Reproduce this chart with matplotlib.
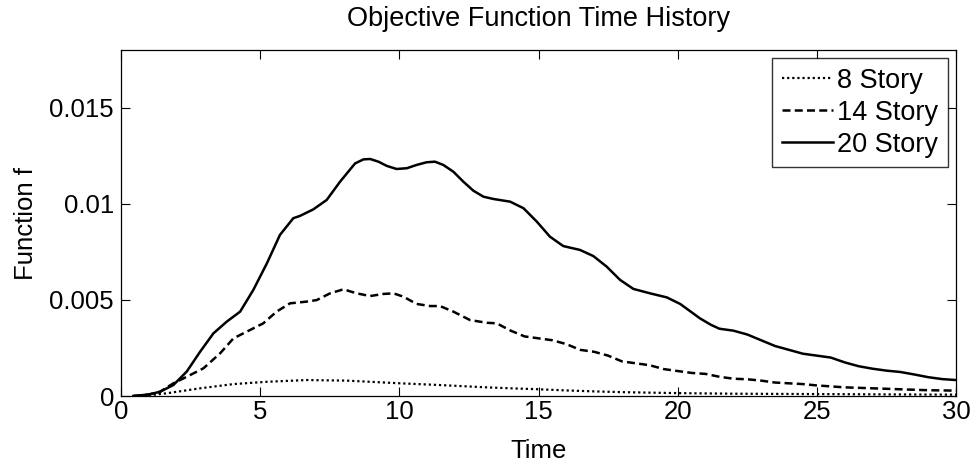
import numpy as np
import matplotlib.pyplot as plt

plt.rcParams['font.family'] = ['Liberation Sans', 'DejaVu Sans']

# values (units of 1e-3)
t20 = [0.44, 1.0, 1.4, 1.88, 2.36, 2.84, 3.32, 3.8, 4.28, 4.75, 5.24, 5.71, 6.19,
       6.43, 6.91, 7.39, 7.87, 8.41, 8.71, 8.95, 9.25, 9.55, 9.9, 10.27, 10.62, 10.98,
       11.28, 11.58, 11.94, 12.3, 12.66, 13.02, 13.38, 13.98, 14.46, 14.94, 15.41,
       15.89, 16.49, 16.97, 17.45, 17.93, 18.41, 19.01, 19.61, 20.09, 20.8, 21.2, 21.5,
       22, 22.5, 23, 23.5, 24, 24.5, 25, 25.5, 26, 26.5, 27, 27.5, 28, 28.5, 29, 29.5, 30]
f20 = [0.0, 0.08, 0.22, 0.57, 1.27, 2.3, 3.26, 3.87, 4.39, 5.51, 6.9, 8.38, 9.25,
       9.37, 9.71, 10.2, 11.15, 12.1, 12.31, 12.33, 12.19, 11.97, 11.81, 11.85, 12.02,
       12.16, 12.19, 12.02, 11.67, 11.15, 10.68, 10.37, 10.25, 10.11, 9.77, 9.07, 8.29,
       7.8, 7.6, 7.28, 6.73, 6.04, 5.57, 5.34, 5.13, 4.79, 4.04, 3.7, 3.5,
       3.4, 3.2, 2.9, 2.6, 2.4, 2.2, 2.1, 2.0, 1.75, 1.55, 1.42, 1.32, 1.25, 1.12, 0.98, 0.88, 0.83]

t14 = [0.44, 1.0, 1.4, 1.88, 2.36, 2.96, 3.56, 4.04, 4.52, 5.11, 5.59, 6.07, 6.67,
       7.03, 7.51, 7.99, 8.47, 8.95, 9.43, 9.79, 10.14, 10.62, 11.1, 11.46, 11.94,
       12.54, 13.14, 13.5, 14, 14.5, 15, 15.5, 16, 16.5, 17, 17.5, 18, 18.5, 19, 19.5,
       20, 20.5, 21, 21.5, 22, 22.5, 23, 23.5, 24, 24.5, 25, 26, 27, 28, 29, 30]
f14 = [0.0, 0.08, 0.22, 0.66, 1.0, 1.44, 2.22, 3.0, 3.35, 3.78, 4.39, 4.82, 4.91,
       4.99, 5.34, 5.55, 5.34, 5.2, 5.31, 5.34, 5.17, 4.79, 4.68, 4.68, 4.39,
       3.95, 3.81, 3.78, 3.4, 3.1, 3.0, 2.9, 2.7, 2.4, 2.3, 2.1, 1.8, 1.7, 1.6, 1.4,
       1.3, 1.2, 1.15, 1.0, 0.9, 0.87, 0.8, 0.7, 0.66, 0.62, 0.55, 0.45, 0.4, 0.35, 0.3, 0.28]

t8 = [0.44, 1.0, 1.64, 2.84, 4.04, 5.24, 6.67, 8.11, 10.03, 11.46, 13.14, 14, 15, 16,
      17, 18, 20, 22, 25, 28, 30]
f8 = [0.0, 0.04, 0.14, 0.4, 0.62, 0.74, 0.83, 0.8, 0.66, 0.57, 0.45, 0.4, 0.35,
      0.29, 0.24, 0.2, 0.15, 0.12, 0.1, 0.08, 0.07]

xticks = [0, 5, 10, 15, 20, 25, 30]
yticks = [0, 0.005, 0.01, 0.015]
yticklabels = ['0', '0.005', '0.01', '0.015']

fs = 18.5

fig = plt.figure(figsize=(9.76, 4.63), dpi=100)
ax = fig.add_axes([0.124, 0.1447, 0.8555, 0.7473])

ax.plot(t8, np.array(f8) * 1e-3, color='k', lw=1.6, linestyle=(0, (1, 1.3)), label='8 Story')
ax.plot(t14, np.array(f14) * 1e-3, color='k', lw=1.8, linestyle=(0, (3.2, 1.7)), label='14 Story')
ax.plot(t20, np.array(f20) * 1e-3, color='k', lw=1.8, linestyle='-', label='20 Story')

ax.set_xlim(0, 30)
ax.set_ylim(0, 0.018)
ax.set_xticks(xticks)
ax.set_yticks(yticks)
ax.set_yticklabels(yticklabels)
ax.tick_params(direction='in', length=6.5, width=0.8, top=True, right=True,
               labelsize=fs)
ax.tick_params(axis='x', pad=3)
ax.tick_params(axis='y', pad=5)
for s in ax.spines.values():
    s.set_linewidth(0.9)

ax.set_xlabel('Time', fontsize=fs, labelpad=11)
ax.set_ylabel('Function f', fontsize=fs, labelpad=8)
ax.set_title('Objective Function Time History', fontsize=19.5, pad=17)

leg = ax.legend(loc='upper right', fontsize=19.5, frameon=True, fancybox=False,
                handlelength=1.9, handletextpad=0.15, borderpad=0.35, labelspacing=0.22,
                borderaxespad=0.3)
leg.get_frame().set_edgecolor('k')
leg.get_frame().set_linewidth(1.0)

fig.savefig('out.png', dpi=100)
